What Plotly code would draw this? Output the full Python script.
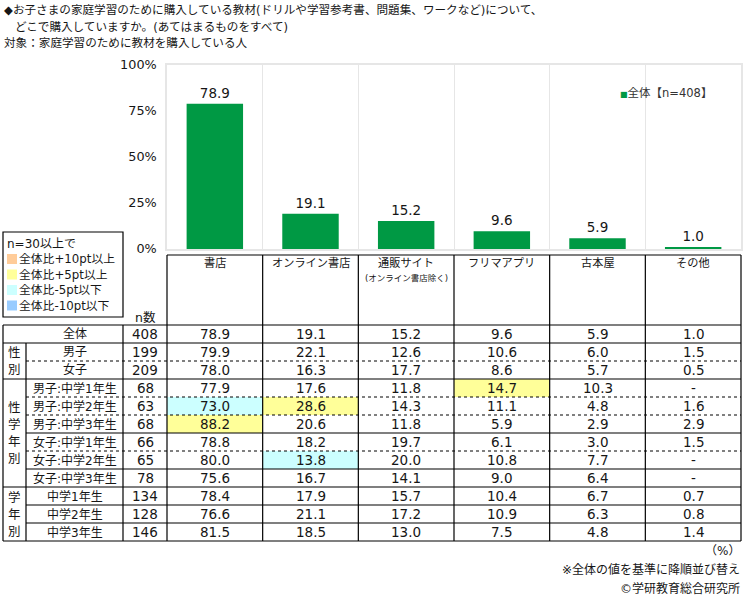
import plotly.graph_objects as go

W, H = 751, 601

# ---------------- data ----------------
categories = ["書店", "オンライン書店", "通販サイト", "フリマアプリ", "古本屋", "その他"]
category_notes = ["", "", "(オンライン書店除く)", "", "", ""]
overall_values = [78.9, 19.1, 15.2, 9.6, 5.9, 1.0]
y_ticks = [0, 25, 50, 75, 100]
y_tick_labels = ["0%", "25%", "50%", "75%", "100%"]

row_labels = ["全体", "男子", "女子",
              "男子:中学1年生", "男子:中学2年生", "男子:中学3年生",
              "女子:中学1年生", "女子:中学2年生", "女子:中学3年生",
              "中学1年生", "中学2年生", "中学3年生"]
n_values = [408, 199, 209, 68, 63, 68, 66, 65, 78, 134, 128, 146]

col_shoten = [78.9, 79.9, 78.0, 77.9, 73.0, 88.2, 78.8, 80.0, 75.6, 78.4, 76.6, 81.5]
col_online = [19.1, 22.1, 16.3, 17.6, 28.6, 20.6, 18.2, 13.8, 16.7, 17.9, 21.1, 18.5]
col_tsuhan = [15.2, 12.6, 17.7, 11.8, 14.3, 11.8, 19.7, 20.0, 14.1, 15.7, 17.2, 13.0]
col_frima = [9.6, 10.6, 8.6, 14.7, 11.1, 5.9, 6.1, 10.8, 9.0, 10.4, 10.9, 7.5]
col_furuhon = [5.9, 6.0, 5.7, 10.3, 4.8, 2.9, 3.0, 7.7, 6.4, 6.7, 6.3, 4.8]
col_sonota = [1.0, 1.5, 0.5, None, 1.6, 2.9, 1.5, None, None, 0.7, 0.8, 1.4]
table_columns = [col_shoten, col_online, col_tsuhan, col_frima, col_furuhon, col_sonota]

group_labels = ["性別", "性学年別", "学年別"]
group_rows = [(1, 2), (3, 8), (9, 11)]

legend_items = ["全体比+10pt以上", "全体比+5pt以上", "全体比-5pt以下", "全体比-10pt以下"]
legend_colors = ["#FFCC99", "#FFFF99", "#CCFFFF", "#99CCFF"]

# ---------------- geometry (pixels) ----------------
PL, PR, PT, PB = 167, 741, 65, 249
COLW = (PR - PL) / len(categories)
T_TOP, H_BOT, ROWH = 255, 325, 18
X0, X1, X2 = 3, 26, 123
FONT = "DejaVu Sans, Noto Sans CJK JP"
NUMFONT = "DejaVu Sans"
TXT = "#161616"


def X(px):
    return px / W


def Y(py):
    return 1 - py / H


fig = go.Figure()
fig.add_trace(go.Bar(
    x=list(range(len(categories))), y=overall_values,
    marker=dict(color="#009944", line=dict(width=0)),
    width=0.59,
    text=[f"{v:.1f}" for v in overall_values], textposition="outside",
    textfont=dict(size=13.5, color=TXT, family=NUMFONT),
    cliponaxis=False, showlegend=False, hoverinfo="skip",
))

shapes = []
ann = []


def line(x0, y0, x1, y1, dash="solid", width=1.2, color="black"):
    shapes.append(dict(type="line", xref="paper", yref="paper",
                       x0=X(x0), y0=Y(y0), x1=X(x1), y1=Y(y1),
                       line=dict(color=color, width=width, dash=dash)))


def text(x, y, s, size=13, xanchor="center", yanchor="middle", color=TXT, family=FONT):
    ann.append(dict(xref="paper", yref="paper", x=X(x), y=Y(y), text=s,
                    showarrow=False, xanchor=xanchor, yanchor=yanchor, borderpad=0,
                    font=dict(size=size, color=color, family=family)))


nrows = len(row_labels)
T_BOT = H_BOT + nrows * ROWH

# highlight cells (n>=30, difference vs 全体)
for ci, col in enumerate(table_columns):
    base = col[0]
    for ri in range(1, nrows):
        v = col[ri]
        if v is None or n_values[ri] < 30:
            continue
        d = round(v - base, 1)
        c = None
        if d >= 10:
            c = legend_colors[0]
        elif d >= 5:
            c = legend_colors[1]
        elif d <= -10:
            c = legend_colors[3]
        elif d <= -5:
            c = legend_colors[2]
        if c:
            shapes.append(dict(type="rect", xref="paper", yref="paper", layer="below",
                               x0=X(PL + ci * COLW), x1=X(PL + (ci + 1) * COLW),
                               y0=Y(H_BOT + ri * ROWH), y1=Y(H_BOT + (ri + 1) * ROWH),
                               fillcolor=c, line=dict(width=0)))

# horizontal lines
styles = {0: ("solid", X0), 1: ("solid", X0), 2: ("dot", X1), 3: ("solid", X0),
          4: ("dot", X1), 5: ("dot", X1), 6: ("solid", X1), 7: ("dot", X1),
          8: ("solid", X1), 9: ("solid", X0), 10: ("solid", X1), 11: ("solid", X1),
          12: ("solid", X0)}
for k in range(nrows + 1):
    dash, xs = styles[k]
    line(xs, H_BOT + k * ROWH, PR, H_BOT + k * ROWH, dash=dash,
         width=1 if dash == "dot" else 1.2)
line(PL, T_TOP, PR, T_TOP)

# vertical lines
line(X0, H_BOT, X0, T_BOT)
line(X1, H_BOT + ROWH, X1, T_BOT)
line(X2, H_BOT, X2, T_BOT)
for i in range(len(categories) + 1):
    line(PL + i * COLW, T_TOP, PL + i * COLW, T_BOT)

# header
for i, (c, note) in enumerate(zip(categories, category_notes)):
    cx = PL + (i + 0.5) * COLW
    text(cx, 263, c, size=11.2)
    if note:
        text(cx, 277.5, note, size=8.5)
text((X2 + PL) / 2, 317, "n数", size=12.5)

# rows
for ri, lab in enumerate(row_labels):
    cy = H_BOT + (ri + 0.5) * ROWH
    text((X1 + X2) / 2, cy, lab, size=12)
    text((X2 + PL) / 2, cy, str(n_values[ri]), size=13.5, family=NUMFONT)
    for ci, col in enumerate(table_columns):
        v = col[ri]
        text(PL + (ci + 0.5) * COLW, cy, "-" if v is None else f"{v:.1f}", size=13.5,
             family=NUMFONT)

# vertical group labels, one character per line
for g, (a, b) in zip(group_labels, group_rows):
    cy = H_BOT + (a + b + 1) / 2 * ROWH
    step = 17
    n = len(g)
    for j, ch in enumerate(g):
        text((X0 + X1) / 2, cy + (j - (n - 1) / 2) * step, ch, size=12.5)

# colour legend box
shapes.append(dict(type="rect", xref="paper", yref="paper",
                   x0=X(3), x1=X(123), y0=Y(232), y1=Y(317),
                   line=dict(color="black", width=1.2), fillcolor="rgba(0,0,0,0)"))
text(6, 244, "n=30以上で", size=12, xanchor="left")
for i, (lab, col) in enumerate(zip(legend_items, legend_colors)):
    cy = 259 + i * 15.5
    shapes.append(dict(type="rect", xref="paper", yref="paper",
                       x0=X(7), x1=X(17), y0=Y(cy - 5), y1=Y(cy + 5),
                       fillcolor=col, line=dict(width=0)))
    text(18, cy, lab, size=11.8, xanchor="left")

# chart legend
text(619, 93, "<span style='color:#009944;font-size:8px'>■</span>全体【n=408】",
     size=11.5, xanchor="left", color="#333333")

# titles
text(3, 10, "◆お子さまの家庭学習のために購入している教材(ドリルや学習参考書、問題集、ワークなど)について、",
     size=11.6, xanchor="left")
text(14, 27, "どこで購入していますか。(あてはまるものをすべて)", size=11.6, xanchor="left")
text(3, 43, "対象：家庭学習のために教材を購入している人", size=11.6, xanchor="left")

# notes
text(741, 551, "（%）", size=12, xanchor="right")
text(741, 569, "※全体の値を基準に降順並び替え", size=12, xanchor="right")
text(741, 588, "©学研教育総合研究所", size=12, xanchor="right")

fig.update_layout(
    width=W, height=H, margin=dict(l=0, r=0, t=0, b=0, pad=0, autoexpand=False),
    paper_bgcolor="white", plot_bgcolor="white",
    font=dict(family=FONT, color=TXT),
    xaxis=dict(domain=[X(PL), X(PR)], range=[-0.5, len(categories) - 0.5],
               tickvals=[i + 0.5 for i in range(len(categories) - 1)],
               showticklabels=False, ticks="", showgrid=True, gridcolor="#E6E6E6",
               gridwidth=1.2, showline=True, mirror=True, linecolor="#E6E6E6",
               linewidth=1.5, zeroline=False, fixedrange=True, automargin=False),
    yaxis=dict(domain=[Y(PB), Y(PT)], range=[0, 100], tickmode="array",
               tickvals=y_ticks, ticktext=y_tick_labels,
               ticks="", showgrid=False, zeroline=False,
               showline=True, mirror=True, linecolor="#E6E6E6", linewidth=1.5,
               tickfont=dict(size=12.8, color=TXT, family=NUMFONT),
               ticklabelstandoff=6, fixedrange=True, automargin=False),
    shapes=shapes, annotations=ann,
)

post = ("var d=document.getElementById('{plot_id}');"
        "d.style.position='fixed';d.style.top='0px';d.style.left='0px';"
        "document.documentElement.style.margin='0';document.body.style.margin='0';"
        "document.documentElement.style.overflow='hidden';document.body.style.overflow='hidden';")
fig.write_html("out.html", config={"displayModeBar": False}, post_script=post)
